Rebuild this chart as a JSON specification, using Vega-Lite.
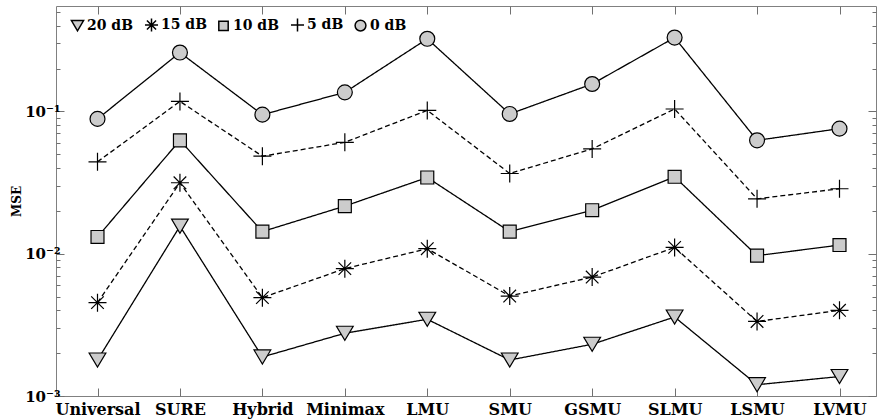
{
  "$schema": "https://vega.github.io/schema/vega-lite/v6.json",
  "width": 820,
  "height": 390,
  "autosize": {"type": "none"},
  "padding": {"left": 56, "top": 6, "right": 2, "bottom": 23},
  "background": "white",
  "config": {
    "view": {"stroke": "#808080", "strokeWidth": 1},
    "font": "DejaVu Serif"
  },
  "data": {
    "values": [
      {"method": "Universal", "snr": "0 dB", "mse": 0.0885},
      {"method": "Universal", "snr": "5 dB", "mse": 0.0442},
      {"method": "Universal", "snr": "10 dB", "mse": 0.0131},
      {"method": "Universal", "snr": "15 dB", "mse": 0.00453},
      {"method": "Universal", "snr": "20 dB", "mse": 0.00179},
      {"method": "SURE", "snr": "0 dB", "mse": 0.259},
      {"method": "SURE", "snr": "5 dB", "mse": 0.1175},
      {"method": "SURE", "snr": "10 dB", "mse": 0.0626},
      {"method": "SURE", "snr": "15 dB", "mse": 0.0315},
      {"method": "SURE", "snr": "20 dB", "mse": 0.0156},
      {"method": "Hybrid", "snr": "0 dB", "mse": 0.0948},
      {"method": "Hybrid", "snr": "5 dB", "mse": 0.0484},
      {"method": "Hybrid", "snr": "10 dB", "mse": 0.0143},
      {"method": "Hybrid", "snr": "15 dB", "mse": 0.00491},
      {"method": "Hybrid", "snr": "20 dB", "mse": 0.00188},
      {"method": "Minimax", "snr": "0 dB", "mse": 0.136},
      {"method": "Minimax", "snr": "5 dB", "mse": 0.0606},
      {"method": "Minimax", "snr": "10 dB", "mse": 0.0216},
      {"method": "Minimax", "snr": "15 dB", "mse": 0.00785},
      {"method": "Minimax", "snr": "20 dB", "mse": 0.00276},
      {"method": "LMU", "snr": "0 dB", "mse": 0.3235},
      {"method": "LMU", "snr": "5 dB", "mse": 0.1016},
      {"method": "LMU", "snr": "10 dB", "mse": 0.0343},
      {"method": "LMU", "snr": "15 dB", "mse": 0.01084},
      {"method": "LMU", "snr": "20 dB", "mse": 0.00346},
      {"method": "SMU", "snr": "0 dB", "mse": 0.0959},
      {"method": "SMU", "snr": "5 dB", "mse": 0.0366},
      {"method": "SMU", "snr": "10 dB", "mse": 0.0143},
      {"method": "SMU", "snr": "15 dB", "mse": 0.00504},
      {"method": "SMU", "snr": "20 dB", "mse": 0.00179},
      {"method": "GSMU", "snr": "0 dB", "mse": 0.1557},
      {"method": "GSMU", "snr": "5 dB", "mse": 0.0545},
      {"method": "GSMU", "snr": "10 dB", "mse": 0.0202},
      {"method": "GSMU", "snr": "15 dB", "mse": 0.00685},
      {"method": "GSMU", "snr": "20 dB", "mse": 0.00231},
      {"method": "SLMU", "snr": "0 dB", "mse": 0.330},
      {"method": "SLMU", "snr": "5 dB", "mse": 0.1039},
      {"method": "SLMU", "snr": "10 dB", "mse": 0.0347},
      {"method": "SLMU", "snr": "15 dB", "mse": 0.01107},
      {"method": "SLMU", "snr": "20 dB", "mse": 0.00359},
      {"method": "LSMU", "snr": "0 dB", "mse": 0.0626},
      {"method": "LSMU", "snr": "5 dB", "mse": 0.0243},
      {"method": "LSMU", "snr": "10 dB", "mse": 0.00968},
      {"method": "LSMU", "snr": "15 dB", "mse": 0.00334},
      {"method": "LSMU", "snr": "20 dB", "mse": 0.0012},
      {"method": "LVMU", "snr": "0 dB", "mse": 0.0756},
      {"method": "LVMU", "snr": "5 dB", "mse": 0.0286},
      {"method": "LVMU", "snr": "10 dB", "mse": 0.0115},
      {"method": "LVMU", "snr": "15 dB", "mse": 0.0040},
      {"method": "LVMU", "snr": "20 dB", "mse": 0.00137}
    ]
  },
  "resolve": {"axis": {"x": "independent", "y": "independent"}},
  "layer": [
    {
      "mark": {"type": "line", "color": "black", "strokeWidth": 1.3},
      "encoding": {
        "x": {
          "field": "method", "type": "nominal",
          "sort": ["Universal", "SURE", "Hybrid", "Minimax", "LMU", "SMU", "GSMU", "SLMU", "LSMU", "LVMU"],
          "scale": {"range": [41.5, 783.5], "padding": 0},
          "axis": {
            "orient": "bottom", "title": null, "domain": false,
            "labelAngle": 0, "labelFont": "DejaVu Serif", "labelFontSize": 16,
            "labelFontWeight": "bold", "labelColor": "black", "labelPadding": 13,
            "tickSize": -8, "tickColor": "#707070", "tickWidth": 1, "grid": false
          }
        },
        "y": {
          "field": "mse", "type": "quantitative",
          "scale": {"type": "log", "domain": [0.001, 0.55], "nice": false},
          "axis": {
            "orient": "left", "title": "MSE", "titleFont": "DejaVu Serif",
            "titleFontSize": 12, "titleFontWeight": "bold", "titleColor": "black",
            "titlePadding": 1, "domain": false, "grid": false,
            "values": [0.001,0.002,0.003,0.004,0.005,0.006,0.007,0.008,0.009,0.01,0.02,0.03,0.04,0.05,0.06,0.07,0.08,0.09,0.1,0.2,0.3,0.4,0.5],
            "labelExpr": "datum.value == 0.1 ? '10\u207b\u00b9' : datum.value == 0.01 ? '10\u207b\u00b2' : datum.value == 0.001 ? '10\u207b\u00b3' : ''",
            "labelFont": "DejaVu Serif", "labelFontSize": 15, "labelFontWeight": "bold",
            "labelColor": "black", "labelPadding": 4,
            "tickSize": {"condition": {"test": "datum.value == 0.1 || datum.value == 0.01 || datum.value == 0.001", "value": -8}, "value": -4},
            "tickColor": "#707070", "tickWidth": 1
          }
        },
        "detail": {"field": "snr", "type": "nominal"},
        "strokeDash": {
          "field": "snr", "type": "nominal",
          "scale": {"domain": ["0 dB", "5 dB", "10 dB", "15 dB", "20 dB"], "range": [[1, 0], [5, 3], [1, 0], [5, 3], [1, 0]]},
          "legend": null
        }
      }
    },
    {
      "mark": {"type": "point", "filled": true, "fill": "#cccccc", "stroke": "black", "strokeWidth": 1.2, "opacity": 1, "size": 324},
      "encoding": {
        "x": {
          "field": "method", "type": "nominal",
          "sort": ["Universal", "SURE", "Hybrid", "Minimax", "LMU", "SMU", "GSMU", "SLMU", "LSMU", "LVMU"],
          "axis": {
            "orient": "top", "title": null, "domain": false, "labels": false,
            "tickSize": -8, "tickColor": "#707070", "tickWidth": 1, "grid": false
          }
        },
        "y": {
          "field": "mse", "type": "quantitative",
          "axis": {
            "orient": "right", "title": null, "domain": false, "labels": false, "grid": false,
            "values": [0.001,0.002,0.003,0.004,0.005,0.006,0.007,0.008,0.009,0.01,0.02,0.03,0.04,0.05,0.06,0.07,0.08,0.09,0.1,0.2,0.3,0.4,0.5],
            "tickSize": {"condition": {"test": "datum.value == 0.1 || datum.value == 0.01 || datum.value == 0.001", "value": -8}, "value": -4},
            "tickColor": "#707070", "tickWidth": 1
          }
        },
        "shape": {
          "field": "snr", "type": "nominal",
          "scale": {
            "domain": ["20 dB", "15 dB", "10 dB", "5 dB", "0 dB"],
            "range": [
              "M-0.93,-0.78L0.93,-0.78L0,0.78Z",
              "M-1,0L1,0M0,-1L0,1M-0.7,-0.7L0.7,0.7M-0.7,0.7L0.7,-0.7",
              "M-0.72,-0.72L0.72,-0.72L0.72,0.72L-0.72,0.72Z",
              "M-1,0L1,0M0,-1L0,1",
              "M0.83,0A0.83,0.83 0 1,1 -0.83,0A0.83,0.83 0 1,1 0.83,0Z"
            ]
          },
          "legend": {
            "title": null, "orient": "none", "legendX": 14, "legendY": 11,
            "direction": "horizontal", "columns": 5, "padding": 0,
            "labelFont": "DejaVu Serif", "labelFontSize": 14, "labelFontWeight": "bold",
            "labelColor": "black", "labelOffset": 2, "columnPadding": 8,
            "symbolSize": 170,
            "encode": {
              "symbols": {
                "update": {
                  "stroke": {"value": "black"},
                  "strokeWidth": {"value": 1.2},
                  "fill": {"value": "#cccccc"},
                  "opacity": {"value": 1}
                }
              }
            }
          }
        }
      }
    }
  ]
}
